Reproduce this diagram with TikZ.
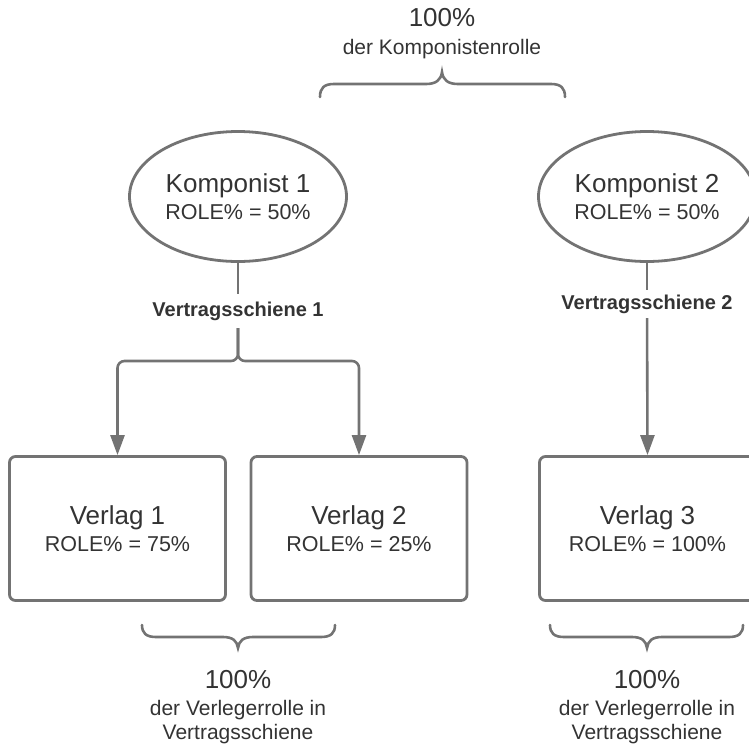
\documentclass[tikz,border=0pt]{standalone}
\usepackage{fontspec}
\setmainfont{Liberation Sans}
\usetikzlibrary{shapes.geometric,arrows.meta}
\definecolor{edge}{HTML}{737373}
\definecolor{ink}{HTML}{333333}
\begin{document}
\begin{tikzpicture}[x=1pt,y=-1pt,
  every node/.style={text=ink},
  person/.style={ellipse, draw=edge, line width=2.8pt, minimum width=217pt,
    minimum height=130pt, inner sep=0pt, align=center,
    font=\fontsize{21.5}{27}\selectfont},
  publisher/.style={rectangle, rounded corners=6pt, draw=edge, line width=2.8pt,
    minimum width=216pt, minimum height=144pt, inner sep=0pt, align=center,
    font=\fontsize{21.5}{27}\selectfont},
  rail/.style={font=\bfseries\fontsize{20}{24}\selectfont, inner sep=0pt},
  big/.style={font=\fontsize{26}{30}\selectfont, inner sep=0pt},
  small/.style={font=\fontsize{21}{23.5}\selectfont, align=center, inner sep=0pt},
  link/.style={draw=edge, line width=2.6pt},
  flow/.style={link, rounded corners=7pt, -{Triangle[length=20pt,width=14pt]}},
  bracket/.style={draw=edge, line width=2.6pt, line cap=round}
]
\useasboundingbox (0,0) rectangle (749,747);
\clip (0,0) rectangle (749,747);

% composers
\node[person] (k1) at (238,196.5) {{\fontsize{26}{26}\selectfont Komponist 1}\\ROLE\% = 50\%};
\node[person] (k2) at (647,196.5) {{\fontsize{26}{26}\selectfont Komponist 2}\\ROLE\% = 50\%};

% publishers
\node[publisher] (b1) at (117.5,528.5) {{\fontsize{26}{26}\selectfont Verlag 1}\\ROLE\% = 75\%};
\node[publisher] (b2) at (359,528.5) {{\fontsize{26}{26}\selectfont Verlag 2}\\ROLE\% = 25\%};
\node[publisher] (b3) at (647.5,528.5) {{\fontsize{26}{26}\selectfont Verlag 3}\\ROLE\% = 100\%};

% contract rails
\node[rail, minimum height=34pt] (v1) at (238,311) {Vertragsschiene 1};
\node[rail, minimum height=28pt] (v2) at (647,304) {Vertragsschiene 2};
\coordinate (j1) at (238,361);

\draw[link] (k1) -- (v1);
\draw[link] (k2) -- (v2);
\draw[flow] (v1) -- (j1) -| (b1.north);
\draw[flow] (v1) -- (j1) -| (b2.north);
\draw[flow] (v2) -- (b3.north);

% shares
\node[big] (top) at (442,18) {100\%};
\node[small] (topsub) at (442,49) {der Komponistenrolle};
\node[big] (s1) at (238,680) {100\%};
\node[small] (s1sub) at (238,722) {der Verlegerrolle in\\Vertragsschiene};
\node[big] (s2) at (647,680) {100\%};
\node[small] (s2sub) at (647,722) {der Verlegerrolle in\\Vertragsschiene};

% braces
\draw[bracket] (320,97) .. controls (320,88) and (324,84) .. (334,84) -- (426,84)
  .. controls (436,84) and (441,80) .. (442,72)
  .. controls (443,80) and (448,84) .. (458,84) -- (551,84)
  .. controls (561,84) and (565,88) .. (565,97);
\draw[bracket] (142,625) .. controls (142,633) and (146,637) .. (156,637) -- (223,637)
  .. controls (233,637) and (237,641) .. (238,648)
  .. controls (239,641) and (243,637) .. (253,637) -- (321,637)
  .. controls (331,637) and (335,633) .. (335,625);
\draw[bracket] (550,625) .. controls (550,633) and (554,637) .. (564,637) -- (632,637)
  .. controls (642,637) and (646,641) .. (647,648)
  .. controls (648,641) and (652,637) .. (662,637) -- (729,637)
  .. controls (739,637) and (743,633) .. (743,625);
\end{tikzpicture}
\end{document}
